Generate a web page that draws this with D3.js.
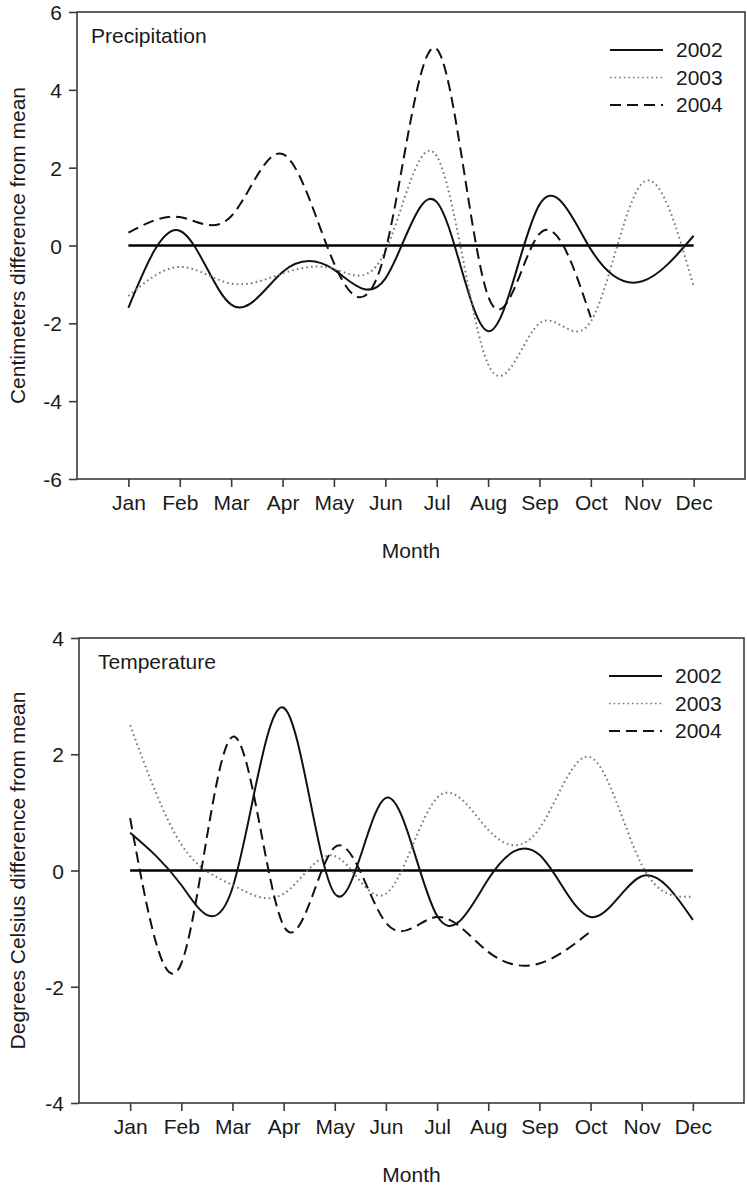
<!DOCTYPE html>
<html>
<head>
<meta charset="utf-8">
<script src="https://cdn.jsdelivr.net/npm/d3@7"></script>
<style>
  body { margin: 0; background: #fff; }
  text { font-family: "Liberation Sans", Arial, sans-serif; fill: #1a1a1a; }
</style>
</head>
<body>
<div class="chart"></div>
<script>
// Monthly values
var months = ["Jan", "Feb", "Mar", "Apr", "May", "Jun", "Jul", "Aug", "Sep", "Oct", "Nov", "Dec"]
var years = ["2002", "2003", "2004"]

var precip2002 = [-1.6, 0.38, -1.52, -0.68, -0.62, -0.85, 1.12, -2.2, 1.05, -0.1, -0.92, 0.25]
var precip2003 = [-1.3, -0.55, -0.98, -0.72, -0.6, -0.15, 2.3, -3.05, -2.0, -1.95, 1.6, -1.05]
var precip2004 = [0.33, 0.73, 0.75, 2.35, -0.45, -0.15, 5.05, -1.3, 0.3, -1.85]

var temp2002 = [0.65, -0.25, -0.3, 2.8, -0.4, 1.25, -0.78, -0.15, 0.27, -0.8, -0.1, -0.85]
var temp2003 = [2.5, 0.45, -0.25, -0.4, 0.25, -0.4, 1.25, 0.7, 0.72, 1.95, 0.1, -0.45]
var temp2004 = [0.9, -1.6, 2.3, -0.95, 0.4, -0.9, -0.8, -1.4, -1.6, -1.05]

var precipTicks = [-6, -4, -2, 0, 2, 4, 6]
var tempTicks = [-4, -2, 0, 2, 4]

var fontSize = 21

var styles = {
    "2002": { stroke: "#111", width: 2, dash: null },
    "2003": { stroke: "#777", width: 2, dash: "1.6,3.2" },
    "2004": { stroke: "#111", width: 2, dash: "11,6" }
}

var svg = d3.select(".chart")
    .append("svg")
    .attr("width", 747)
    .attr("height", 1188)

function panel(opt) {
    var g = svg.append("g")

    var x = d3.scalePoint()
        .domain(months)
        .range([opt.left, opt.right])
        .padding(1)

    var y = d3.scaleLinear()
        .domain([opt.ticks[0], opt.ticks[opt.ticks.length - 1]])
        .range([opt.bottom, opt.top])

    // frame
    g.append("rect")
        .attr("x", opt.left)
        .attr("y", opt.top)
        .attr("width", opt.right - opt.left)
        .attr("height", opt.bottom - opt.top)
        .attr("fill", "none")
        .attr("stroke", "#3a3a3a")
        .attr("stroke-width", 1.6)

    var yAxis = g.append("g")
        .attr("transform", `translate(${opt.left},0)`)
        .call(d3.axisLeft(y).tickValues(opt.ticks).tickFormat(d => String(d))
            .tickSize(8).tickPadding(7).tickSizeOuter(0))

    var xAxis = g.append("g")
        .attr("transform", `translate(0,${opt.bottom})`)
        .call(d3.axisBottom(x).tickSize(8).tickPadding(19).tickSizeOuter(0))

    g.selectAll(".domain").remove()
    g.selectAll(".tick line").attr("stroke", "#3a3a3a").attr("stroke-width", 1.6)
    g.selectAll(".tick text")
        .attr("font-size", fontSize)
        .attr("fill", "#1a1a1a")
        .attr("font-family", "Liberation Sans, Arial, sans-serif")
    xAxis.selectAll(".tick text").attr("dy", "0.2em")
    yAxis.selectAll(".tick text").attr("dy", "0.36em")

    // zero reference line
    g.append("line")
        .attr("x1", x("Jan"))
        .attr("x2", x("Dec"))
        .attr("y1", y(0))
        .attr("y2", y(0))
        .attr("stroke", "#000")
        .attr("stroke-width", 2.6)

    var line = d3.line()
        .x((d, i) => x(months[i]))
        .y(d => y(d))
        .curve(d3.curveNatural)

    opt.series.forEach(function (s, k) {
        var st = styles[years[k]]
        g.append("path")
            .attr("d", line(s))
            .attr("fill", "none")
            .attr("stroke", st.stroke)
            .attr("stroke-width", st.width)
            .attr("stroke-dasharray", st.dash)
    })

    // legend
    years.forEach(function (yr, k) {
        var st = styles[yr]
        var ly = opt.top + 38 + k * 27.5
        g.append("line")
            .attr("x1", opt.right - 135)
            .attr("x2", opt.right - 82)
            .attr("y1", ly)
            .attr("y2", ly)
            .attr("stroke", st.stroke)
            .attr("stroke-width", k == 1 ? 1.6 : 1.8)
            .attr("stroke-dasharray", k == 1 ? "1.6,3" : st.dash)
        g.append("text")
            .attr("x", opt.right - 69)
            .attr("y", ly + 7)
            .attr("font-size", fontSize)
            .text(yr)
    })

    g.append("text")
        .attr("x", opt.left + opt.titleX)
        .attr("y", opt.top + 31)
        .attr("font-size", fontSize)
        .text(opt.title)

    g.append("text")
        .attr("transform", `translate(25,${(opt.top + opt.bottom) / 2}) rotate(-90)`)
        .attr("text-anchor", "middle")
        .attr("font-size", fontSize)
        .text(opt.ylabel)

    g.append("text")
        .attr("x", (opt.left + opt.right) / 2)
        .attr("y", opt.bottom + 79)
        .attr("text-anchor", "middle")
        .attr("font-size", fontSize)
        .text("Month")
}

panel({
    left: 77, right: 745, top: 12, bottom: 479,
    ticks: precipTicks,
    series: [precip2002, precip2003, precip2004],
    title: "Precipitation", titleX: 14,
    ylabel: "Centimeters difference from mean"
})

panel({
    left: 79, right: 744, top: 638, bottom: 1103,
    ticks: tempTicks,
    series: [temp2002, temp2003, temp2004],
    title: "Temperature", titleX: 19,
    ylabel: "Degrees Celsius difference from mean"
})
</script>
</body>
</html>
